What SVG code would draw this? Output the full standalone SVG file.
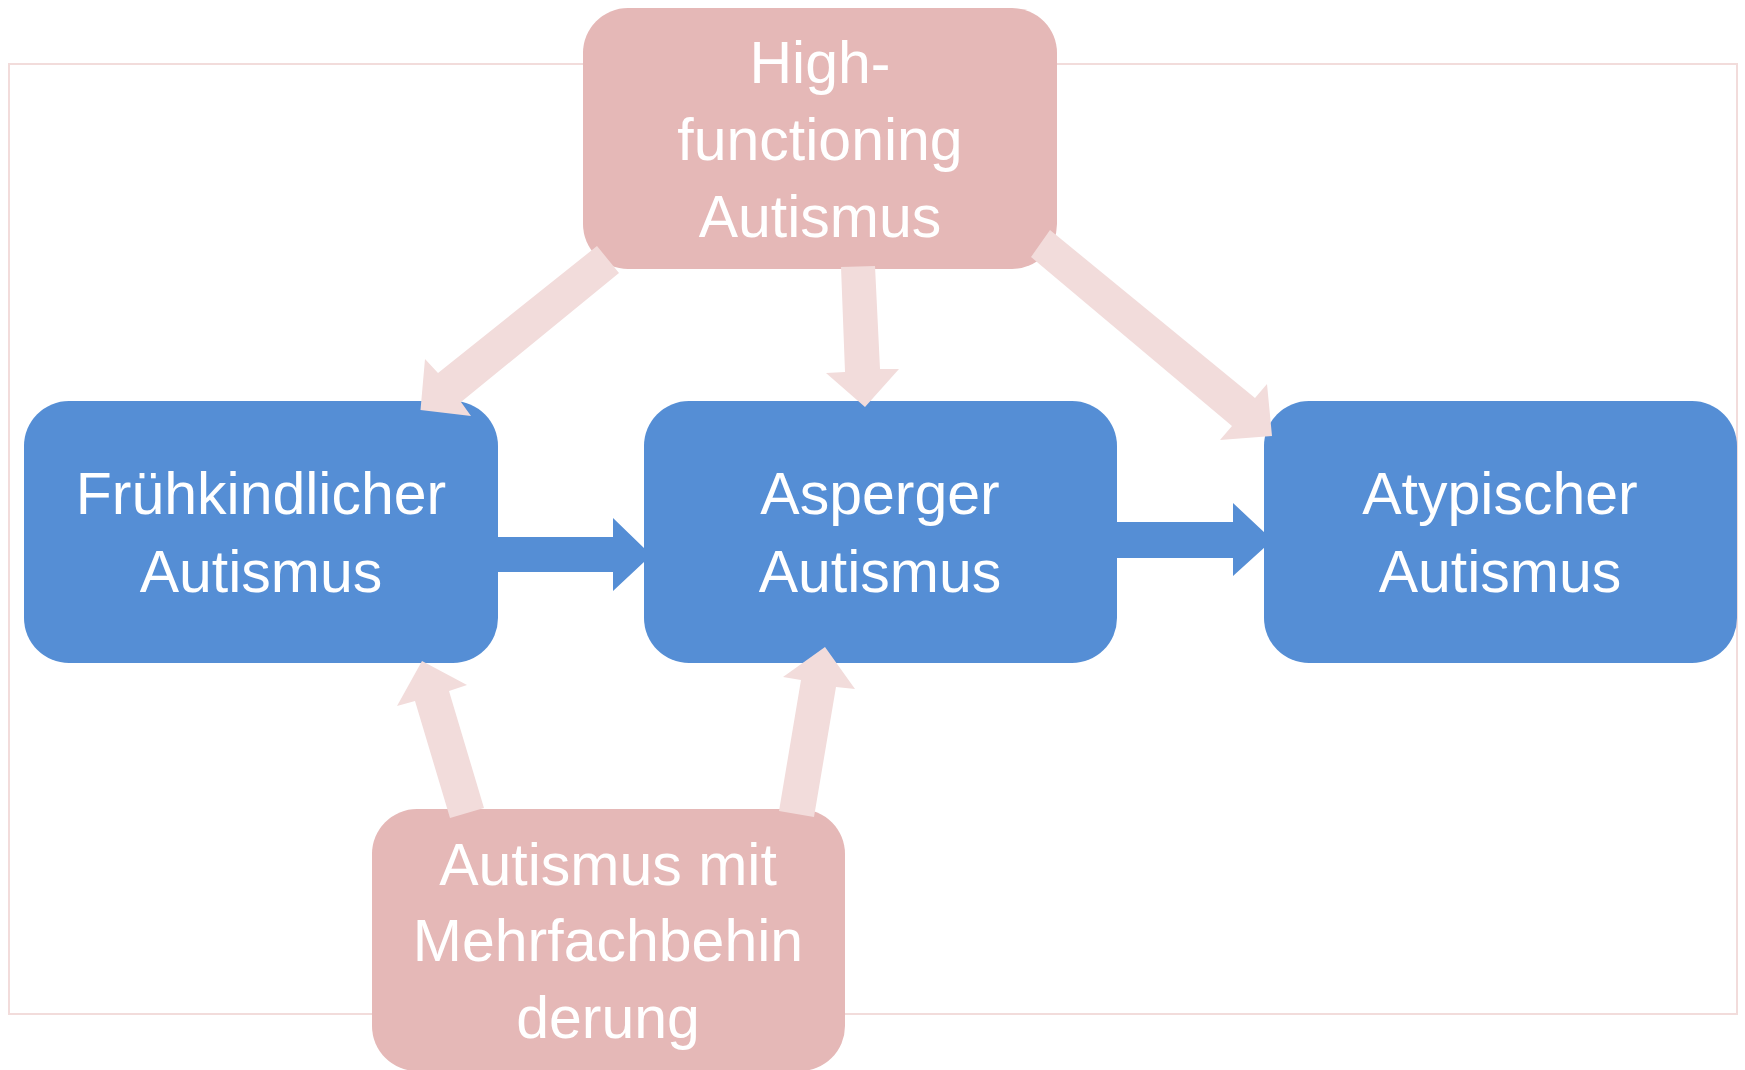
<svg xmlns="http://www.w3.org/2000/svg" width="1745" height="1070" viewBox="0 0 1745 1070">
<style>
.frame{fill:none;stroke:#F2DCDB;stroke-width:2}
.pink{fill:#E5B8B7}
.blue{fill:#558ED5}
.lbl{font-family:"Liberation Sans",Arial,sans-serif;font-size:59px;fill:#FFFFFF;text-anchor:middle}
.pa{fill:#F2DCDB}
.ba{fill:#558ED5}
</style>
<rect class="frame" x="9" y="64" width="1728" height="950"/>
<g id="node-high">
<rect class="pink" x="583" y="8" width="474" height="261" rx="45" ry="45"/>
<text class="lbl" x="820" y="83">High-</text>
<text class="lbl" x="820" y="160">functioning</text>
<text class="lbl" x="820" y="237">Autismus</text>
</g>
<g id="node-fruehkindlich">
<rect class="blue" x="24" y="401" width="474" height="262" rx="45" ry="45"/>
<text class="lbl" x="261" y="514">Frühkindlicher</text>
<text class="lbl" x="261" y="592">Autismus</text>
</g>
<g id="node-asperger">
<rect class="blue" x="644" y="401" width="473" height="262" rx="45" ry="45"/>
<text class="lbl" x="880" y="514">Asperger</text>
<text class="lbl" x="880" y="592">Autismus</text>
</g>
<g id="node-atypisch">
<rect class="blue" x="1264" y="401" width="473" height="262" rx="45" ry="45"/>
<text class="lbl" x="1500" y="514">Atypischer</text>
<text class="lbl" x="1500" y="592">Autismus</text>
</g>
<g id="node-mehrfach">
<rect class="pink" x="372" y="809" width="473" height="262" rx="45" ry="45"/>
<text class="lbl" x="608" y="885">Autismus mit</text>
<text class="lbl" x="608" y="961">Mehrfachbehin</text>
<text class="lbl" x="608" y="1038">derung</text>
</g>
<g id="connectors">
<polygon class="ba" points="498,537 613,537 613,518 644,548 644,562 613,591 613,572 498,572"/>
<polygon class="ba" points="1117,522 1233,522 1233,503 1265,533 1265,547 1233,576 1233,558 1117,558"/>
<polygon class="pa" points="597,246 438,373 425,359 420.5,410 471,416 461,402 619,273"/>
<polygon class="pa" points="841,267 845,372 826,373 865,407 899,369 880,369 875,266"/>
<polygon class="pa" points="1050,230 1255,398 1267,384 1272,436 1220,440 1232,426 1031,257"/>
<polygon class="pa" points="450,818 415,701 397,706 422,661 467,685 449,691 484,808"/>
<polygon class="pa" points="779,811 801,680 783,677 825,647 855,689 836,687 814,817"/>
</g>
</svg>
